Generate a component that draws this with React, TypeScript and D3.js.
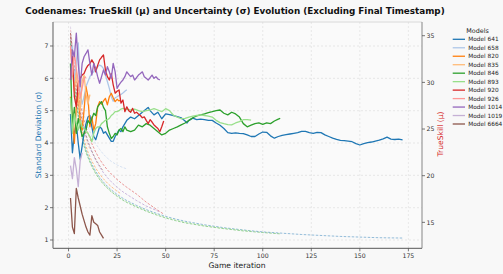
import React from 'react';
import * as d3 from 'd3';

const W = 503;
const H = 274;

const models = ['Model 641', 'Model 658', 'Model 820', 'Model 835', 'Model 846', 'Model 893', 'Model 920', 'Model 926', 'Model 1014', 'Model 1019', 'Model 6664'];
const colors = ['#1f77b4', '#aec7e8', '#ff7f0e', '#ffbb78', '#2ca02c', '#98df8a', '#d62728', '#ff9896', '#9467bd', '#c5b0d5', '#8c564b'];

const xTicks = [0, 25, 50, 75, 100, 125, 150, 175];
const sigmaTicks = [1, 2, 3, 4, 5, 6, 7];
const muTicks = [15, 20, 25, 30, 35];

// ---- TrueSkill mu (right axis) ----
const games641 = [...d3.range(1, 31), 32, 34, 36, 38, 40, 41, 42, 44, 46, 48, 50, 52, 54, 56, 58, 60, 61, ...d3.range(62, 173, 2)];
const mu641 = [26.62, 22.46, 24.54, 25.58, 23.50, 21.77, 23.16, 24.54, 25.58, 26.28,
  26.45, 25.24, 24.20, 23.85, 24.54, 25.24, 25.06, 24.54, 24.72, 24.37,
  24.02, 23.68, 23.68, 24.20, 24.54, 24.89, 24.72, 25.24, 25.58, 25.93,
  26.28, 26.10, 26.45, 26.80, 27.14, 27.32, 26.97, 26.52, 26.80, 26.10, 26.62, 26.55, 26.45, 26.34, 26.21, 25.86, 25.65,
  25.93, 26.17, 26.00, 26.07, 26.00, 25.93, 25.93, 25.65, 25.41, 25.06, 24.61, 24.54, 24.58, 24.54, 24.51, 24.37, 24.20, 24.20, 24.47, 24.68,
  24.65, 24.27, 24.02, 24.20, 24.33, 24.40, 24.47, 24.54, 24.61, 24.75, 24.75, 24.61, 24.54, 24.65, 24.61, 24.37, 24.20, 24.02, 23.88, 23.78,
  23.75, 23.71, 23.64, 23.43, 23.29, 23.43, 23.54, 23.61, 23.71, 23.81, 23.95, 24.13, 23.92, 23.88, 23.92, 23.85];
const mu658 = [33.48, 33.90, 30.09, 32.17, 34.24, 28.87, 27.66, 28.46, 29.57, 30.09, 30.61, 30.95, 31.13, 31.47, 31.68, 31.85, 31.75, 31.47, 30.78, 30.09, 29.36, 28.46, 27.98, 28.35, 28.46, 28.60, 28.70, 28.87, 29.05, 29.22];
const mu820 = [28.46, 25.93, 23.47, 27.42, 28.84, 26.00, 24.89, 27.04, 29.53, 28.46, 25.24, 26.31, 24.89, 25.58, 27.38, 27.94, 27.66, 28.01, 28.29, 27.59, 28.46, 28.84, 28.35, 27.94, 28.18, 28.01, 28.11];
const mu835 = [33.55, 31.47, 29.05, 31.13, 28.35, 26.97, 30.09, 30.78, 28.70, 27.66, 28.70];
const games846 = [...d3.range(1, 31), ...d3.range(32, 109, 2), 109];
const mu846 = [32.03, 25.24, 27.32, 24.54, 26.14, 25.24, 24.20, 24.54, 24.89, 25.93,
  25.58, 26.10, 26.69, 26.45, 27.38, 27.66, 27.94, 27.32, 26.97, 25.24,
  24.54, 23.99, 24.20, 24.54, 24.37, 24.89, 25.06, 24.72, 25.24, 24.89,
  24.72, 24.89, 25.41, 25.24, 25.58, 25.41, 25.06, 24.72, 24.37, 24.54, 24.89, 25.06, 25.24, 25.44, 25.65, 25.93, 26.21, 26.41, 26.52, 26.62,
  26.76, 26.86, 26.97, 27.04, 26.69, 26.52, 26.80, 26.62, 26.28, 25.58, 25.24, 25.41, 25.58, 25.65, 25.51, 25.65, 25.58, 25.86, 26.07, 26.14];
const games893 = [...d3.range(1, 29), ...d3.range(30, 95, 2)];
const mu893 = [28.35, 24.54, 26.62, 25.58, 24.89, 25.93, 25.24, 25.06, 24.72, 24.54,
  24.20, 23.64, 24.54, 25.06, 25.24, 25.24, 25.58, 25.75, 25.93, 26.00,
  26.14, 26.45, 26.62, 26.86, 26.86, 26.97, 27.14, 27.21,
  27.11, 27.04, 27.14, 26.97, 26.86, 26.97, 27.04, 27.18, 27.04, 26.86, 27.18, 26.97, 26.48, 26.28, 26.10, 26.14, 26.28,
  26.38, 26.45, 26.52, 26.45, 26.38, 26.28, 25.93, 25.69, 25.58, 25.48, 25.44, 25.65, 25.79, 26.00, 26.00, 25.96];
const mu920 = [30.26, 32.75, 28.46, 27.38, 29.91, 30.43, 30.78, 30.95, 31.47, 31.82,
  31.99, 32.41, 32.03, 31.13, 31.82, 32.41, 32.69, 32.93, 31.33, 30.61,
  30.26, 30.95, 29.74, 28.84, 29.05, 29.19, 27.77, 28.11, 26.86, 27.38,
  26.97, 26.80, 27.21, 26.69, 26.80, 26.62, 26.45, 26.21, 26.31, 25.93,
  25.58, 26.00, 25.75, 25.44, 25.24, 25.06, 24.72, 25.24, 25.86];
const mu926 = [33.90, 30.78, 33.20, 31.47, 30.09, 28.35, 29.39, 30.43, 30.61];
const mu1014 = [30.26, 33.48, 32.75, 35.28, 32.03, 29.53, 32.03, 32.75, 33.10, 33.48,
  32.03, 30.78, 32.03, 31.47, 30.61, 29.91, 30.61, 31.33, 30.78, 31.68,
  31.13, 30.43, 32.03, 31.13, 29.36, 29.74, 30.02, 30.26, 30.61, 31.13,
  30.85, 30.61, 30.78, 30.26, 30.50, 30.78, 30.95, 31.13, 30.61, 30.43,
  30.26, 30.50, 30.78, 30.43, 30.61, 30.36, 30.26];
const mu1019 = [21.08, 19.69, 21.94, 20.73, 18.83, 21.60, 22.46];
const mu6664 = [17.61, 14.49, 13.80, 18.65, 17.61, 16.75, 15.88, 15.19, 14.49, 13.97, 13.63, 15.71, 15.01, 14.84, 14.67, 13.97, 13.63, 13.28];

// ---- Uncertainty sigma (left axis) ----
const sg641 = [1, 2, 3, 4, 5, 6, 7, 8, 9, 10, 12, 14, 16, 18, 20, 22, 25, 28, 30, 35, 40, 45, 50, 55, 60, 70, 80, 90, 100, 110, 120, 130, 140, 150, 160, 172];
const sig641 = [7.2, 6.4, 5.8, 5.3, 4.9, 4.55, 4.25, 4.0, 3.8, 3.62, 3.34, 3.12, 2.94, 2.79, 2.66, 2.55, 2.41, 2.29, 2.22, 2.07, 1.94, 1.83, 1.73, 1.65, 1.58, 1.47, 1.38, 1.31, 1.25, 1.21, 1.17, 1.14, 1.11, 1.09, 1.07, 1.06];
const sg658 = [1, 2, 3, 4, 5, 6, 8, 10, 12, 14, 16, 18, 20, 22, 25, 28, 30];
const sig658 = [7.4, 6.9, 6.4, 6.0, 5.65, 5.35, 4.85, 4.5, 4.2, 3.98, 3.8, 3.65, 3.53, 3.43, 3.32, 3.24, 3.2];
const sg820 = [1, 2, 3, 4, 5, 6, 8, 10, 12, 14, 16, 18, 20, 22, 25, 27];
const sig820 = [7.3, 6.5, 5.9, 5.4, 5.0, 4.65, 4.1, 3.72, 3.44, 3.22, 3.04, 2.89, 2.76, 2.65, 2.51, 2.43];
const sg835 = [1, 2, 3, 4, 5, 6, 7, 8, 9, 10, 11];
const sig835 = [7.3, 6.6, 6.0, 5.5, 5.1, 4.8, 4.5, 4.3, 4.1, 3.95, 3.8];
const sg846 = [1, 2, 3, 4, 5, 6, 7, 8, 9, 10, 12, 14, 16, 18, 20, 22, 25, 28, 30, 35, 40, 45, 50, 55, 60, 70, 80, 90, 100, 109];
const sig846 = [7.1, 6.3, 5.7, 5.2, 4.8, 4.45, 4.15, 3.9, 3.7, 3.55, 3.27, 3.05, 2.87, 2.72, 2.6, 2.49, 2.35, 2.23, 2.16, 2.02, 1.89, 1.78, 1.68, 1.6, 1.53, 1.43, 1.35, 1.28, 1.23, 1.19];
const sg893 = [1, 2, 3, 4, 5, 6, 7, 8, 9, 10, 12, 14, 16, 18, 20, 22, 25, 28, 30, 35, 40, 45, 50, 55, 60, 70, 80, 90, 94];
const sig893 = [7.15, 6.35, 5.75, 5.25, 4.85, 4.5, 4.2, 3.95, 3.75, 3.58, 3.3, 3.08, 2.9, 2.75, 2.62, 2.51, 2.37, 2.25, 2.18, 2.04, 1.91, 1.8, 1.7, 1.62, 1.55, 1.44, 1.36, 1.3, 1.28];
const sg920 = [1, 2, 3, 4, 5, 6, 8, 10, 12, 14, 16, 18, 20, 22, 25, 28, 30, 35, 40, 45, 49];
const sig920 = [7.4, 6.8, 6.3, 5.9, 5.5, 5.2, 4.7, 4.3, 3.98, 3.72, 3.5, 3.32, 3.17, 3.04, 2.87, 2.72, 2.63, 2.42, 2.17, 1.96, 1.8];
const sg926 = [1, 2, 3, 4, 5, 6, 7, 8, 9];
const sig926 = [7.5, 6.9, 6.3, 5.8, 5.4, 5.05, 4.75, 4.5, 4.3];
const sg1014 = [1, 2, 3, 4, 5, 6, 8, 10, 12, 14, 16, 18, 20, 22, 25, 28, 30, 35, 40, 45, 47];
const sig1014 = [7.3, 6.6, 6.05, 5.6, 5.2, 4.9, 4.4, 4.02, 3.72, 3.47, 3.26, 3.08, 2.93, 2.8, 2.63, 2.49, 2.41, 2.22, 2.05, 1.92, 1.87];
const sg1019 = [1, 2, 3, 4, 5, 6, 7];
const sig1019 = [7.6, 7.0, 6.5, 6.1, 5.75, 5.45, 5.2];
const sg6664 = [1, 2, 3, 4, 5, 6, 8, 10, 12, 14, 16, 18];
const sig6664 = [7.4, 6.7, 6.15, 5.7, 5.3, 4.95, 4.45, 4.05, 3.75, 3.5, 3.3, 3.12];

const idx = (n: number) => d3.range(1, n + 1);

const muGames = [games641, idx(mu658.length), idx(mu820.length), idx(mu835.length), games846, games893, idx(mu920.length), idx(mu926.length), idx(mu1014.length), idx(mu1019.length), idx(mu6664.length)];
const muVals = [mu641, mu658, mu820, mu835, mu846, mu893, mu920, mu926, mu1014, mu1019, mu6664];
const sigGames = [sg641, sg658, sg820, sg835, sg846, sg893, sg920, sg926, sg1014, sg1019, sg6664];
const sigVals = [sig641, sig658, sig820, sig835, sig846, sig893, sig920, sig926, sig1014, sig1019, sig6664];

export default function App() {
  const left = 53, right = 422, top = 22, bottom = 248.3;
  const x = d3.scaleLinear().domain([-8, 182]).range([left, right]);
  const yS = d3.scaleLinear().domain([0.743, 7.742]).range([bottom, top]);
  const yM = d3.scaleLinear().domain([12.22, 36.47]).range([bottom, top]);

  const lineS = d3.line<[number, number]>().x(d => x(d[0])).y(d => yS(d[1]));
  const lineM = d3.line<[number, number]>().x(d => x(d[0])).y(d => yM(d[1]));

  const font = 'DejaVu Sans, sans-serif';
  const tickColor = '#333';

  return (
    <svg width={W} height={H} style={{ position: 'absolute', left: 0, top: 0, background: '#f8f8f8' }} fontFamily={font}>
      <rect x={0} y={0} width={W} height={H} fill="#f8f8f8" />
      <rect x={left} y={top} width={right - left} height={bottom - top} fill="#fafafa" />
      {/* grid */}
      {xTicks.map(t => (
        <line key={'gx' + t} x1={x(t)} x2={x(t)} y1={top} y2={bottom} stroke="#dcdcdc" strokeWidth={0.6} strokeDasharray="2,2" />
      ))}
      {sigmaTicks.map(t => (
        <line key={'gy' + t} x1={left} x2={right} y1={yS(t)} y2={yS(t)} stroke="#dcdcdc" strokeWidth={0.6} strokeDasharray="2,2" />
      ))}
      {/* sigma dashed */}
      {sigVals.map((vals, i) => (
        <path key={'s' + i} d={lineS(vals.map((v, j) => [sigGames[i][j], v] as [number, number])) || ''}
          fill="none" stroke={colors[i]} strokeWidth={0.8} strokeOpacity={0.6} strokeDasharray="2.5,1.5" />
      ))}
      {/* mu solid */}
      {muVals.map((vals, i) => (
        <path key={'m' + i} d={lineM(vals.map((v, j) => [muGames[i][j], v] as [number, number])) || ''}
          fill="none" stroke={colors[i]} strokeWidth={1.3} strokeLinejoin="round" />
      ))}
      {/* spines */}
      <line x1={left} x2={right} y1={top} y2={top} stroke="#d0d0d0" strokeWidth={0.8} />
      <line x1={left} x2={left} y1={top} y2={bottom} stroke="#777" strokeWidth={1.2} />
      <line x1={right} x2={right} y1={top} y2={bottom} stroke="#999" strokeWidth={1.2} />
      <line x1={left} x2={right} y1={bottom} y2={bottom} stroke="#777" strokeWidth={1.2} />
      {/* x ticks */}
      {xTicks.map(t => (
        <g key={'xt' + t}>
          <line x1={x(t)} x2={x(t)} y1={bottom} y2={bottom + 3} stroke="#555" strokeWidth={0.8} />
          <text x={x(t)} y={257.5} fontSize={6.2} textAnchor="middle" fill={tickColor}>{t}</text>
        </g>
      ))}
      {/* left ticks */}
      {sigmaTicks.map(t => (
        <g key={'yl' + t}>
          <line x1={left - 3} x2={left} y1={yS(t)} y2={yS(t)} stroke="#555" strokeWidth={0.8} />
          <text x={48.5} y={yS(t) + 2.2} fontSize={6.2} textAnchor="end" fill={tickColor}>{t}</text>
        </g>
      ))}
      {/* right ticks */}
      {muTicks.map(t => (
        <g key={'yr' + t}>
          <line x1={right} x2={right + 3} y1={yM(t)} y2={yM(t)} stroke="#555" strokeWidth={0.8} />
          <text x={426.5} y={yM(t) + 2.2} fontSize={6.2} textAnchor="start" fill={tickColor}>{t}</text>
        </g>
      ))}
      {/* axis labels */}
      <text x={237} y={268} fontSize={7.6} textAnchor="middle" fill="#222">Game iteration</text>
      <text transform={`translate(40.5,135) rotate(-90)`} fontSize={7.6} textAnchor="middle" fill="#1f77b4">Standard Deviation (σ)</text>
      <text transform={`translate(443,134) rotate(-90)`} fontSize={7.6} textAnchor="middle" fill="#d62728">TrueSkill (μ)</text>
      {/* title */}
      <text x={235} y={14} fontSize={8.8} fontWeight="bold" textAnchor="middle" fill="#111">Codenames: TrueSkill (μ) and Uncertainty (σ) Evolution (Excluding Final Timestamp)</text>
      {/* legend */}
      <text x={477.5} y={33} fontSize={6.4} textAnchor="middle" fill="#222">Models</text>
      {models.map((m, i) => {
        const cy = 39.3 + i * 8.47;
        return (
          <g key={'lg' + i}>
            <line x1={452.7} x2={465} y1={cy} y2={cy} stroke={colors[i]} strokeWidth={1.3} />
            <text x={468.3} y={cy + 2.1} fontSize={5.8} fill="#222">{m}</text>
          </g>
        );
      })}
    </svg>
  );
}
